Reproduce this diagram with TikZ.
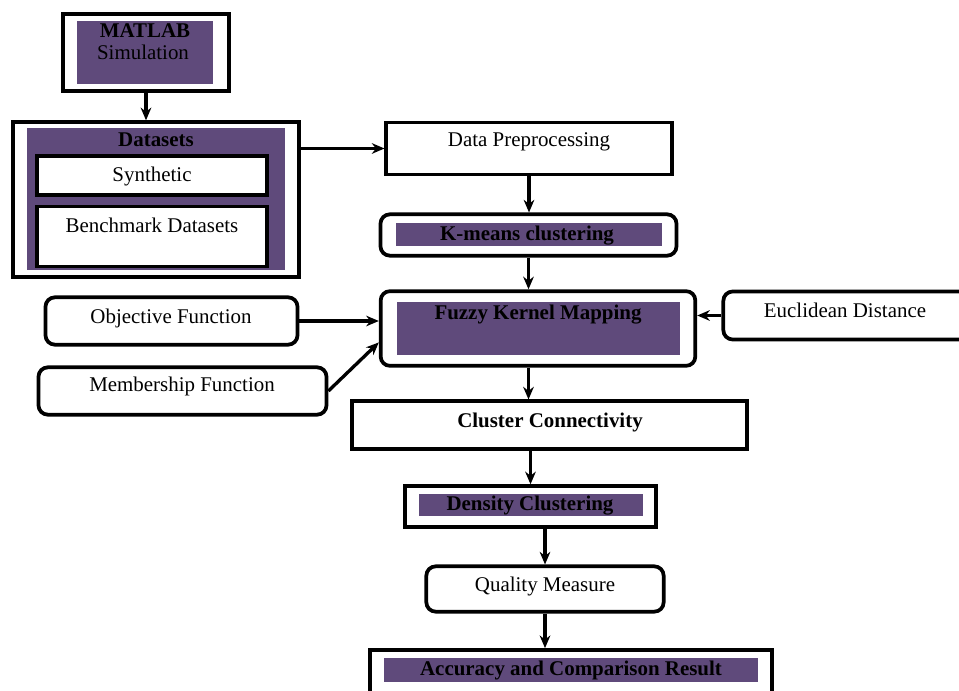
\documentclass[tikz,border=0pt]{standalone}
\usepackage{fontspec}
\setmainfont{Liberation Serif}
\usepackage{tikz}
\usetikzlibrary{arrows.meta, positioning, calc}
\definecolor{kernpurple}{RGB}{95, 74, 123}

\tikzset{
    outerbox/.style={draw, line width=2.8pt, inner sep=0pt, fill=white},
    roundbox/.style={outerbox, rounded corners=7pt},
    purplebox/.style={fill=kernpurple, draw=none, inner sep=0pt},
    txt/.style={font=\fontsize{15.7}{17}\selectfont, inner sep=0pt, text height=1.5ex, text depth=.35ex, yshift=-2.2pt},
    btxt/.style={txt, font=\fontsize{15.7}{17}\selectfont\bfseries},
    flow/.style={-{Stealth[length=9.5pt, width=8pt]}, line width=2.5pt}
}

\begin{document}
\begin{tikzpicture}[x=0.75pt, y=-0.75pt]
    \useasboundingbox (0,0) rectangle (959,691);

    % 1. INPUT BLOCKS (left column)
    \node[outerbox, minimum width=124pt, minimum height=58pt] (matlab) at (146,52.5) {};
    \node[purplebox, minimum width=102pt, minimum height=47pt] (matlabin) at (145,52.5) {};
    \node[btxt] (matlabt) at (145,31) {MATLAB};
    \node[txt] (simt) at (143,53) {Simulation};

    \node[outerbox, minimum width=214pt, minimum height=116pt] (datasets) at (156,199.5) {};
    \node[purplebox, minimum width=193.5pt, minimum height=106.5pt] (datasetsin) at (156,199) {};
    \node[btxt] (datasetst) at (156,140) {Datasets};
    \node[outerbox, minimum width=172pt, minimum height=29pt] (synth) at (152,175.5) {};
    \node[txt] (syntht) at (152,175) {Synthetic};
    \node[outerbox, minimum width=172pt, minimum height=45pt] (bench) at (152,236.5) {};
    \node[txt] (bencht) at (152,226) {Benchmark Datasets};

    % 2. MAIN PIPELINE (centre column)
    \node[outerbox, minimum width=214pt, minimum height=39pt] (prep) at (529,148.5) {};
    \node[txt] (prept) at (529,140) {Data Preprocessing};

    \node[roundbox, minimum width=222pt, minimum height=31pt] (kmeans) at (528.5,235) {};
    \node[purplebox, minimum width=199.5pt, minimum height=17.25pt] (kmeansin) at (529,234.5) {};
    \node[btxt] (kmeanst) at (527,234) {K-means clustering};

    \node[roundbox, minimum width=236pt, minimum height=56pt] (fuzzy) at (538,328.5) {};
    \node[purplebox, minimum width=212pt, minimum height=39.75pt] (fuzzyin) at (538.5,328.5) {};
    \node[btxt] (fuzzyt) at (538,313) {Fuzzy Kernel Mapping};

    \node[outerbox, minimum width=296pt, minimum height=35.5pt] (cluster) at (549.5,425) {};
    \node[btxt] (clustert) at (550,421) {Cluster Connectivity};

    \node[outerbox, minimum width=188pt, minimum height=30.5pt] (density) at (530.5,506.5) {};
    \node[purplebox, minimum width=168pt, minimum height=16.5pt] (densityin) at (531,505) {};
    \node[btxt] (densityt) at (530,504) {Density Clustering};

    \node[roundbox, minimum width=178pt, minimum height=34pt] (quality) at (545,589) {};
    \node[txt] (qualityt) at (545,585) {Quality Measure};

    \node[outerbox, minimum width=302pt, minimum height=37.5pt] (accuracy) at (571,675) {};
    \node[purplebox, minimum width=280.5pt, minimum height=18pt] (accuracyin) at (571,670) {};
    \node[btxt] (accuracyt) at (571,669) {Accuracy and Comparison Result};

    % 3. SIDE INPUTS
    \node[roundbox, minimum width=189pt, minimum height=35.5pt] (objective) at (171.5,321) {};
    \node[txt] (objectivet) at (171,317) {Objective Function};
    \node[roundbox, minimum width=216pt, minimum height=35.5pt] (member) at (182.5,391) {};
    \node[txt] (membert) at (182,385) {Membership Function};
    \node[roundbox, minimum width=187pt, minimum height=36pt] (euclid) at (848,315.5) {};
    \node[txt] (euclidt) at (845,311) {Euclidean Distance};

    % 4. CONNECTORS
    \draw[flow] (matlab.south) -- (matlab.south |- datasets.north);
    \draw[flow] (prep.west -| datasets.east) -- (prep.west);
    \draw[flow] (prep.south) -- (prep.south |- kmeans.north);
    \draw[flow] (kmeans.south) -- (kmeans.south |- fuzzy.north);
    \draw[flow] (objective.east) -- (objective.east -| fuzzy.west);
    \draw[flow] (member.east) -- (fuzzy.185);
    \draw[flow] (euclid.west) -- (euclid.west -| fuzzy.east);
    \draw[flow] (kmeans.south |- fuzzy.south) -- (kmeans.south |- cluster.north);
    \draw[flow] (density.north |- cluster.south) -- (density.north);
    \draw[flow] (quality.north |- density.south) -- (quality.north);
    \draw[flow] (quality.south) -- (quality.south |- accuracy.north);

\end{tikzpicture}
\end{document}
